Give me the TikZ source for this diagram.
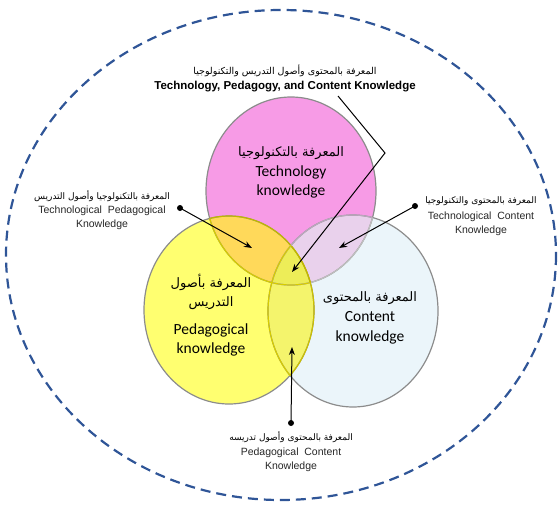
\documentclass[tikz,border=0pt]{standalone}
\usepackage{fontspec}
\setmainfont{Liberation Sans}
\newfontfamily\arabicfont[Script=Arabic]{DejaVu Sans}
\newfontfamily\calibri{Carlito}
\TeXXeTstate=1
\usetikzlibrary{arrows.meta,positioning}

\definecolor{techpink}{HTML}{F79BE6}
\definecolor{pedyellow}{HTML}{FFFF70}
\definecolor{contblue}{HTML}{EBF5FA}
\definecolor{tpkorange}{HTML}{FFD95A}
\definecolor{tcklilac}{HTML}{E9D1EC}
\definecolor{pcklime}{HTML}{F4F46C}
\definecolor{tpacklime}{HTML}{EDED58}
\definecolor{ringblue}{HTML}{2F5597}
\definecolor{rimgray}{HTML}{8C8C8C}

\begin{document}
\begin{tikzpicture}[x=1pt, y=-1pt,
    rim/.style={draw=rimgray, line width=1.2pt},
    pointer/.style={-{Stealth[length=8pt,width=6pt]}, line width=1pt},
    dot/.style={circle, fill=black, inner sep=0pt, minimum size=6pt},
    arlabel/.style={font=\arabicfont\fontsize{9}{10}\selectfont, inner sep=0pt},
    smalllabel/.style={align=center, font=\fontsize{10.5}{13.5}\selectfont, text=black!85, inner sep=0pt},
    bigar/.style={align=center, font=\arabicfont\fontsize{13}{19}\selectfont, inner sep=0pt},
    biglabel/.style={align=center, font=\calibri\fontsize{15.5}{19.5}\selectfont, inner sep=0pt}]
  \useasboundingbox (0,0) rectangle (559,506);
  % Outer ring
  \draw[ringblue, line width=2.2pt, dash pattern=on 10pt off 6pt] (281,255) ellipse [x radius=275, y radius=245];
  % Define circles
  \coordinate (t) at (291,191);
  \coordinate (p) at (229,310);
  \coordinate (c) at (353,311);
  \def\tcirc{(t) ellipse [x radius=85, y radius=94]}
  \def\pcirc{(p) ellipse [x radius=85, y radius=94]}
  \def\ccirc{(c) ellipse [x radius=85, y radius=96]}
  % Fill circles and overlaps
  \fill[techpink] \tcirc;
  \fill[contblue] \ccirc;
  \fill[pedyellow] \pcirc;
  \begin{scope}
    \clip \pcirc;
    \fill[pcklime] \ccirc;
  \end{scope}
  \begin{scope}
    \clip \tcirc;
    \fill[tpkorange] \pcirc;
    \fill[tcklilac] \ccirc;
    \clip \pcirc;
    \fill[tpacklime] \ccirc;
  \end{scope}
  % Outlines
  \draw[rim] \tcirc;
  \draw[rim] \pcirc;
  \draw[rim] \ccirc;
  \begin{scope}
    \clip \ccirc;
    \draw[line width=1.2pt, color=black!25] \tcirc;
    \draw[line width=1.2pt, color=olive!45!yellow] \pcirc;
  \end{scope}
  \begin{scope}
    \clip \tcirc;
    \draw[line width=1.2pt, color=olive!55!yellow] \pcirc;
    \draw[line width=1.2pt, color=black!20!tcklilac] \ccirc;
  \end{scope}
  \begin{scope}
    \clip \pcirc;
    \draw[line width=1.2pt, color=olive!35!yellow] \tcirc;
    \draw[line width=1.2pt, color=olive!35!yellow] \ccirc;
  \end{scope}
  % Circle labels
  \node[bigar] (tk-ar) at (291,153) {\beginR المعرفة بالتكنولوجيا\endR};
  \node[biglabel] (tk) at (291,182) {Technology\\knowledge};
  \node[bigar] (pk-ar) at (211,292) {\beginR المعرفة بأصول\endR\\\beginR التدريس\endR};
  \node[biglabel] (pk) at (211,340) {Pedagogical\\knowledge};
  \node[bigar] (ck-ar) at (370,298) {\beginR المعرفة بالمحتوى\endR};
  \node[biglabel] (ck) at (370,328) {Content\\knowledge};
  % Intersection labels
  \node[arlabel, font=\arabicfont\fontsize{9.5}{11}\selectfont] (tpack-ar) at (285,71) {\beginR المعرفة بالمحتوى وأصول التدريس والتكنولوجيا\endR};
  \node[smalllabel, font=\bfseries\fontsize{11.5}{13}\selectfont, text=black] (tpack) at (285,87) {Technology,\ Pedagogy,\ and Content\ Knowledge};
  \node[arlabel] (tpk-ar) at (102,196) {\beginR المعرفة بالتكنولوجيا وأصول التدريس\endR};
  \node[smalllabel] (tpk) at (102,218) {Technological\ \ Pedagogical\\Knowledge};
  \node[arlabel] (tck-ar) at (481,201) {\beginR المعرفة بالمحتوى والتكنولوجيا\endR};
  \node[smalllabel] (tck) at (481,224) {Technological\ \ Content\\Knowledge};
  \node[arlabel] (pck-ar) at (291,437) {\beginR المعرفة بالمحتوى وأصول تدريسه\endR};
  \node[smalllabel] (pck) at (291,460) {Pedagogical\ \ Content\\Knowledge};
  % Pointers
  \node[dot] (tpk-dot) at (180,208) {};
  \node[dot] (tck-dot) at (415,206) {};
  \node[dot] (pck-dot) at (291,423) {};
  \coordinate (tpk-tip) at (252,248);
  \coordinate (tck-tip) at (339,248);
  \coordinate (pck-tip) at (292,347);
  \coordinate (tpack-start) at (338,96);
  \coordinate (tpack-bend) at (385,153);
  \coordinate (tpack-tip) at (292,272);
  \draw[pointer] (tpk-dot.center) -- (tpk-tip);
  \draw[pointer] (tck-dot.center) -- (tck-tip);
  \draw[pointer] (pck-dot.center) -- (pck-tip);
  \draw[pointer] (tpack-start) -- (tpack-bend) -- (tpack-tip);
\end{tikzpicture}
\end{document}
